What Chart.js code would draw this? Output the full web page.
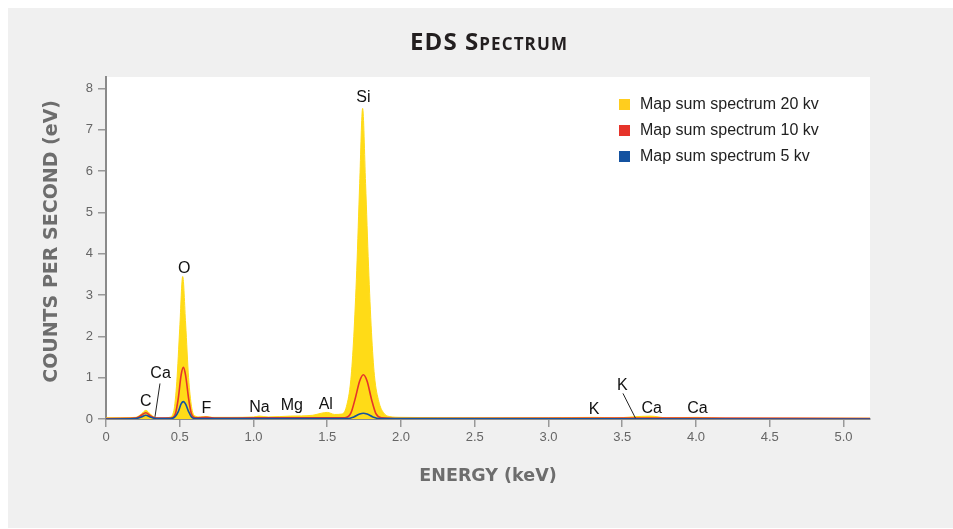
<!DOCTYPE html>
<html>
<head>
<meta charset="utf-8">
<script src="https://cdn.jsdelivr.net/npm/chart.js@4.4.1/dist/chart.umd.min.js"></script>
<style>
  body { margin: 0; background: #ffffff; }
  #wrap { position: relative; width: 953px; height: 529px; }
  #title {
    position: absolute; left: 0; top: 24px; width: 978px; text-align: center;
    font-family: "Open Sans", Lato, sans-serif; font-weight: 700; font-size: 24px;
    font-variant: small-caps; color: #231f20; letter-spacing: 1.1px;
  }
</style>
</head>
<body>
<div id="wrap">
  <canvas id="edsChart" width="953" height="529"></canvas>
  <div id="title">EDS Spectrum</div>
</div>
<script>
// EDS spectrum, three accelerating voltages
(function() {
    'use strict';

    const seriesNames = ['Map sum spectrum 20 kv', 'Map sum spectrum 10 kv', 'Map sum spectrum 5 kv'];
    const seriesColors = ['#ffdb17', '#e6332a', '#1452a0'];

    // 20 kV
    const energies20 = [0.00, 0.10, 0.20, 0.24, 0.27, 0.30, 0.33, 0.38, 0.43, 0.46, 0.48, 0.50, 0.52, 0.54, 0.56, 0.58, 0.60, 0.64, 0.68, 0.72, 0.85,
        1.00, 1.04, 1.10, 1.25, 1.40, 1.46, 1.50, 1.55, 1.60, 1.63, 1.66, 1.68, 1.70, 1.72, 1.74, 1.76, 1.78, 1.80, 1.82, 1.85, 1.88, 1.92,
        2.00, 2.50, 3.00, 3.31, 3.45, 3.69, 3.80, 4.01, 4.20, 5.18];
    const counts20 = [0.03, 0.03, 0.04, 0.12, 0.21, 0.12, 0.04, 0.02, 0.04, 0.20, 0.90, 2.20, 3.45, 2.30, 1.00, 0.30, 0.08, 0.05, 0.06, 0.04, 0.04,
        0.05, 0.07, 0.05, 0.07, 0.09, 0.14, 0.16, 0.11, 0.12, 0.30, 0.95, 2.00, 3.60, 5.70, 7.52, 5.70, 3.70, 2.10, 1.05, 0.42, 0.16, 0.06,
        0.04, 0.03, 0.03, 0.04, 0.03, 0.07, 0.03, 0.04, 0.02, 0.02];

    // 10 kV
    const energies10 = [0.00, 0.20, 0.24, 0.27, 0.30, 0.34, 0.44, 0.47, 0.49, 0.51, 0.525, 0.54, 0.56, 0.58, 0.61, 0.68, 0.75, 1.04, 1.50,
        1.62, 1.66, 1.69, 1.72, 1.745, 1.77, 1.80, 1.83, 1.87, 2.00, 3.69, 5.18];
    const counts10 = [0.01, 0.02, 0.09, 0.15, 0.08, 0.02, 0.02, 0.12, 0.50, 1.08, 1.25, 1.05, 0.50, 0.12, 0.03, 0.04, 0.02, 0.03, 0.03,
        0.03, 0.14, 0.50, 0.92, 1.07, 0.92, 0.48, 0.13, 0.03, 0.01, 0.02, 0.01];

    // 5 kV
    const energies5 = [0.00, 0.20, 0.24, 0.27, 0.30, 0.34, 0.44, 0.47, 0.49, 0.51, 0.525, 0.54, 0.56, 0.58, 0.61,
        1.64, 1.68, 1.72, 1.745, 1.77, 1.81, 1.85, 5.18];
    const counts5 = [0.00, 0.01, 0.05, 0.09, 0.05, 0.01, 0.01, 0.06, 0.18, 0.37, 0.42, 0.36, 0.18, 0.05, 0.01,
        0.01, 0.05, 0.12, 0.14, 0.12, 0.05, 0.01, 0.00];

    // element labels (energy, counts)
    const peakNames = ['Si', 'O', 'C', 'Ca', 'F', 'Na', 'Mg', 'Al', 'K', 'K', 'Ca', 'Ca'];
    const peakEnergies = [1.745, 0.53, 0.27, 0.37, 0.68, 1.04, 1.26, 1.49, 3.31, 3.50, 3.70, 4.01];
    const peakCounts = [7.78, 3.64, 0.41, 1.09, 0.26, 0.28, 0.33, 0.35, 0.23, 0.80, 0.26, 0.26];
    // leader lines: [x1, y1, x2, y2]
    const leaderLines = [[0.366, 0.86, 0.332, 0.05], [3.505, 0.62, 3.59, 0.02]];

    const xTicks = [0, 0.5, 1.0, 1.5, 2.0, 2.5, 3.0, 3.5, 4.0, 4.5, 5.0];

    function toPoints(xs, ys) {
        return xs.map((x, i) => ({ x: x, y: ys[i] }));
    }

    const backgroundPlugin = {
        id: 'panelBackground',
        beforeDraw(chart) {
            const { ctx, chartArea } = chart;
            ctx.save();
            ctx.fillStyle = '#ffffff';
            ctx.fillRect(0, 0, chart.width, chart.height);
            ctx.fillStyle = '#f0f0f0';
            ctx.fillRect(8, 8, chart.width - 8, chart.height - 9);
            ctx.fillStyle = '#ffffff';
            ctx.fillRect(chartArea.left, chartArea.top, chartArea.right - chartArea.left, chartArea.bottom - chartArea.top);
            ctx.restore();
        }
    };

    const labelsPlugin = {
        id: 'peakLabels',
        afterDraw(chart) {
            const { ctx, scales } = chart;
            const xs = scales.x, ys = scales.y;
            ctx.save();
            ctx.fillStyle = '#111111';
            ctx.font = '16px "Liberation Sans", Arial, sans-serif';
            ctx.textAlign = 'center';
            ctx.textBaseline = 'middle';
            peakNames.forEach((name, i) => {
                ctx.fillText(name, xs.getPixelForValue(peakEnergies[i]), ys.getPixelForValue(peakCounts[i]));
            });
            ctx.strokeStyle = '#222222';
            ctx.lineWidth = 1;
            leaderLines.forEach(l => {
                ctx.beginPath();
                ctx.moveTo(xs.getPixelForValue(l[0]), ys.getPixelForValue(l[1]));
                ctx.lineTo(xs.getPixelForValue(l[2]), ys.getPixelForValue(l[3]));
                ctx.stroke();
            });

            // legend
            ctx.font = '16px "Liberation Sans", Arial, sans-serif';
            ctx.textAlign = 'left';
            seriesNames.forEach((name, i) => {
                const y = 105 + i * 26;
                ctx.fillStyle = i === 0 ? '#ffcd1e' : seriesColors[i];
                ctx.fillRect(619, y - 6, 11, 11);
                ctx.fillStyle = '#222222';
                ctx.fillText(name, 640, y);
            });
            ctx.restore();
        }
    };

    const tickFont = { family: '"Liberation Sans", Arial, sans-serif', size: 13 };

    new Chart(document.getElementById('edsChart'), {
        type: 'line',
        data: {
            datasets: [
                {
                    label: seriesNames[0],
                    data: toPoints(energies20, counts20),
                    borderColor: seriesColors[0],
                    backgroundColor: seriesColors[0],
                    borderWidth: 1,
                    fill: 'origin',
                    pointRadius: 0,
                    cubicInterpolationMode: 'monotone',
                    order: 3
                },
                {
                    label: seriesNames[1],
                    data: toPoints(energies10, counts10),
                    borderColor: seriesColors[1],
                    borderWidth: 1.6,
                    fill: false,
                    pointRadius: 0,
                    cubicInterpolationMode: 'monotone',
                    order: 2
                },
                {
                    label: seriesNames[2],
                    data: toPoints(energies5, counts5),
                    borderColor: seriesColors[2],
                    borderWidth: 1.6,
                    fill: false,
                    pointRadius: 0,
                    cubicInterpolationMode: 'monotone',
                    order: 1
                }
            ]
        },
        options: {
            responsive: false,
            animation: false,
            layout: { padding: { left: 0, top: 77, right: 83, bottom: 0 } },
            plugins: {
                legend: { display: false },
                tooltip: { enabled: false }
            },
            scales: {
                x: {
                    type: 'linear',
                    min: 0,
                    max: 5.18,
                    afterFit(scale) { scale.height = 110; },
                    afterBuildTicks(scale) { scale.ticks = xTicks.map(v => ({ value: v })); },
                    ticks: {
                        color: '#666666',
                        font: tickFont,
                        padding: 3,
                        maxRotation: 0,
                        callback: v => (v === 0 ? '0' : v.toFixed(1))
                    },
                    grid: { drawOnChartArea: false, drawTicks: true, tickLength: 8, color: '#999999', lineWidth: 1.5 },
                    border: { color: '#8a8a8a', width: 2 },
                    title: {
                        display: true,
                        text: 'ENERGY (keV)',
                        color: '#6d6d6d',
                        font: { family: '"DejaVu Sans", sans-serif', size: 17.5, weight: 'bold' },
                        padding: { top: 0, bottom: 42 }
                    }
                },
                y: {
                    min: 0,
                    max: 8.28,
                    afterFit(scale) { scale.width = 106; },
                    ticks: {
                        stepSize: 1,
                        includeBounds: false,
                        color: '#666666',
                        font: tickFont,
                        padding: 5
                    },
                    grid: { drawOnChartArea: false, drawTicks: true, tickLength: 8, color: '#999999', lineWidth: 1.5 },
                    border: { color: '#8a8a8a', width: 2 },
                    title: {
                        display: true,
                        text: '  COUNTS PER SECOND (eV)',
                        color: '#6d6d6d',
                        font: { family: '"DejaVu Sans", sans-serif', size: 19, weight: 'bold' },
                        padding: { top: 41, bottom: 0 }
                    }
                }
            }
        },
        plugins: [backgroundPlugin, labelsPlugin]
    });
})();
</script>
</body>
</html>
